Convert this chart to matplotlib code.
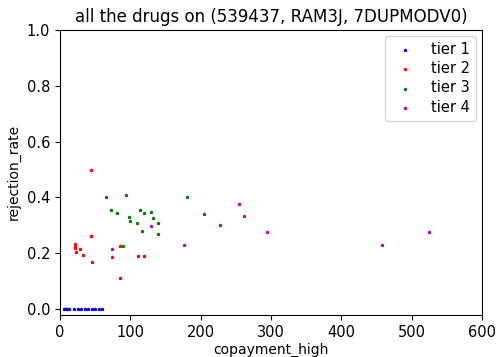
import matplotlib
matplotlib.use("Agg")
import matplotlib.pyplot as plt

# tier 1: all at zero rejection
tier1_x = [5, 8, 10, 13, 20, 25, 30, 35, 40, 45, 50, 55, 60]
tier1_y = [0, 0, 0, 0, 0, 0, 0, 0, 0, 0, 0, 0, 0]

tier2_x = [44, 44, 22, 22, 22, 23, 28, 32, 46, 74, 86, 86, 111, 120]
tier2_y = [0.5, 0.26, 0.232, 0.224, 0.217, 0.205, 0.214, 0.195, 0.17, 0.185, 0.226, 0.11, 0.19, 0.19]

tier3_x = [66, 94, 72, 81, 98, 100, 110, 114, 120, 130, 132, 140, 116, 140, 90, 181, 205, 228]
tier3_y = [0.4, 0.41, 0.354, 0.344, 0.33, 0.316, 0.31, 0.354, 0.344, 0.349, 0.325, 0.31, 0.279, 0.269, 0.226, 0.4, 0.339, 0.3]

tier4_x = [74, 130, 177, 254, 261, 294, 458, 525]
tier4_y = [0.214, 0.296, 0.231, 0.377, 0.335, 0.277, 0.231, 0.277]

fig = plt.figure(figsize=(5, 3.57), dpi=100)
ax = fig.add_axes([0.12, 0.118, 0.844, 0.798])

ax.scatter(tier1_x, tier1_y, color="blue", marker="*", s=3, label="tier 1")
ax.scatter(tier2_x, tier2_y, color="red", marker="*", s=3, label="tier 2")
ax.scatter(tier3_x, tier3_y, color="green", marker="*", s=3, label="tier 3")
ax.scatter(tier4_x, tier4_y, color="m", marker="*", s=3, label="tier 4")

ax.set_xlim(0, 600)
ax.set_ylim(-0.021, 1.0)
ax.set_title("all the drugs on (539437, RAM3J, 7DUPMODV0)", fontsize=12)
ax.set_xlabel("copayment_high", fontsize=10, labelpad=2)
ax.set_ylabel("rejection_rate", fontsize=10)
ax.tick_params(labelsize=10.5)
ax.legend(loc="upper right", fontsize=10.5, labelspacing=0.3, borderaxespad=0.4)

fig.savefig("out.png")
